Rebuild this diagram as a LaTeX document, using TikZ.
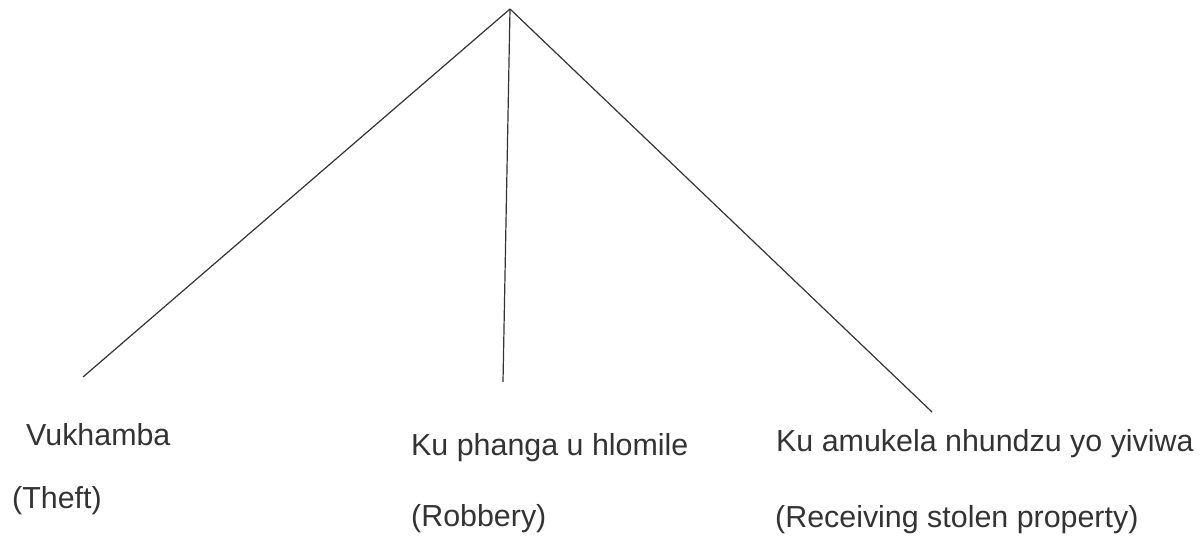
\documentclass[tikz,border=0pt]{standalone}
\usepackage{fontspec}
\setmainfont{Liberation Sans}
\begin{document}
\begin{tikzpicture}[x=1pt,y=-1pt,
  lbl/.style={anchor=base west,inner sep=0pt,text=black!80,font=\fontsize{30.4}{36}\selectfont},
  branch/.style={line width=1.2pt,black!80}]
\useasboundingbox (0,0) rectangle (1203,540);
\coordinate (apex) at (510,9);
\coordinate (l) at (83,377);
\coordinate (m) at (503,382);
\coordinate (r) at (932,412);
\draw[branch] (apex) -- (l);
\draw[branch] (apex) -- (m);
\draw[branch] (apex) -- (r);
\node[lbl] (t1) at (26,445) {Vukhamba};
\node[lbl] (t2) at (12,508) {(Theft)};
\node[lbl] (t3) at (411,455) {Ku phanga u hlomile};
\node[lbl] (t4) at (411,526) {(Robbery)};
\node[lbl] (t5) at (776,451) {Ku amukela nhundzu yo yiviwa};
\node[lbl] (t6) at (775,527) {(Receiving stolen property)};
\end{tikzpicture}
\end{document}
